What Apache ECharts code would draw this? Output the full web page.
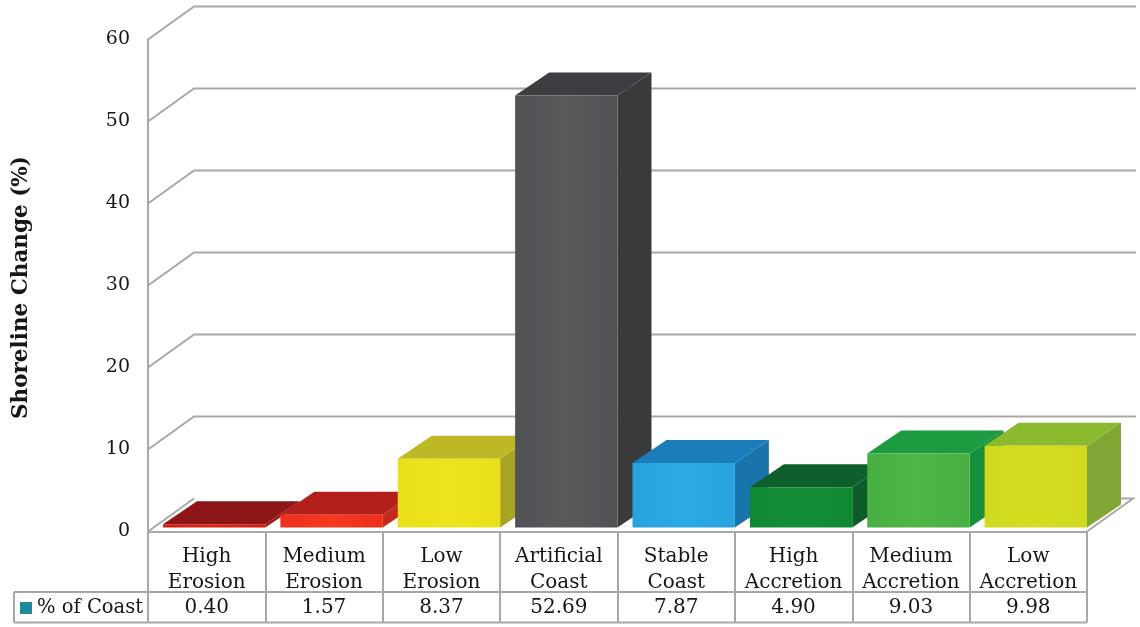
<!DOCTYPE html>
<html>
<head>
<meta charset="utf-8">
<style>html,body{margin:0;padding:0;background:#fff}#chart{width:1140px;height:627px}</style>
<script src="https://cdn.jsdelivr.net/npm/echarts@6/dist/echarts.min.js"></script>
</head>
<body>
<div id="chart"></div>
<script>
// Shoreline change by class, shown as extruded bars over a data table.
const categories = ['High\nErosion', 'Medium\nErosion', 'Low\nErosion', 'Artificial\nCoast', 'Stable\nCoast', 'High\nAccretion', 'Medium\nAccretion', 'Low\nAccretion'];
const percentOfCoast = [0.40, 1.57, 8.37, 52.69, 7.87, 4.90, 9.03, 9.98];
const yTicks = [0, 10, 20, 30, 40, 50, 60];

// Face colours per bar: [front light, front dark, top, side]
const faceColors = [
  ['#dc2218', '#cf1c15', '#8c1515', '#a01815'],
  ['#f5391f', '#ee2f1b', '#b3201c', '#c22a1c'],
  ['#eee41b', '#eae019', '#bdb825', '#a8a522'],
  ['#57595b', '#505255', '#3e3d41', '#383a3b'],
  ['#2baae4', '#27a3dd', '#1a7db9', '#1a74ac'],
  ['#138e37', '#108832', '#0e5f2c', '#0f5c2b'],
  ['#4eb646', '#48b042', '#1c9b40', '#16903a'],
  ['#d6dd20', '#d0d91e', '#8cba2e', '#80a636']
];

const FONT = '"DejaVu Serif", serif';
const TEXT = '#161616';
const RULE = '#a9a7a7';
const WALL_DX = 46, WALL_DY = -33;     // offset of the back wall
const BAR_DX = 34, BAR_DY = -23;       // extrusion of each bar
const BAR_LIFT = 4, BAR_INSET = 15;    // bar base sits slightly behind the front edge
const TABLE_LEFT = 14, ROW_TOP = 592, ROW_BOTTOM = 622.5;

function quad(points, fill) {
  return { type: 'polygon', shape: { points }, style: { fill } };
}

function stroke(shape, type) {
  return { type, shape, style: { stroke: RULE, lineWidth: 2, fill: null } };
}

function renderWall(params, api) {
  const sys = params.coordSys;
  const v = api.value(1);
  const y = api.coord([0, v])[1];
  const xl = sys.x;
  const xr = sys.x + sys.width;
  const by = y + WALL_DY;
  if (v === 0) {
    // Floor: both slanted edges and the stub of back edge showing past the last bar
    return {
      type: 'group',
      children: [
        stroke({ x1: xl, y1: y, x2: xl + WALL_DX, y2: by }, 'line'),
        stroke({ points: [[xr, y], [xr + WALL_DX, by], [xr + BAR_DX, by]] }, 'polyline')
      ]
    };
  }
  return stroke({ points: [[xl, y], [xl + WALL_DX, by], [xr + WALL_DX + 3, by]] }, 'polyline');
}

function renderBar(params, api) {
  const i = api.value(0);
  const v = api.value(1);
  const base = api.coord([i, 0]);
  const top = api.coord([i, v]);
  const cellW = api.size([1, 0])[0];
  const L = base[0] - cellW / 2 + BAR_INSET;
  const R = base[0] + cellW / 2;
  const B = base[1] - BAR_LIFT;
  const T = top[1] - BAR_LIFT;
  const c = faceColors[i];
  return {
    type: 'group',
    children: [
      quad([[R, B], [R + BAR_DX, B + BAR_DY], [R + BAR_DX, T + BAR_DY], [R, T]], c[3]),
      quad([[L, T], [R, T], [R + BAR_DX, T + BAR_DY], [L + BAR_DX, T + BAR_DY]], c[2]),
      {
        type: 'rect',
        shape: { x: L, y: T, width: R - L, height: B - T },
        style: {
          fill: {
            type: 'linear', x: 0, y: 0, x2: 1, y2: 0,
            colorStops: [{ offset: 0, color: c[1] }, { offset: 0.5, color: c[0] }, { offset: 1, color: c[1] }]
          }
        }
      },
      {
        type: 'text',
        style: {
          text: v.toFixed(2), x: base[0], y: (ROW_TOP + ROW_BOTTOM) / 2 + 1,
          textAlign: 'center', textVerticalAlign: 'middle',
          fontFamily: FONT, fontSize: 20, fill: TEXT
        }
      }
    ]
  };
}

const chart = echarts.init(document.getElementById('chart'), null, { renderer: 'canvas' });
chart.setOption({
  animation: false,
  backgroundColor: '#fff',
  grid: { left: 148, top: 39.5, width: 939, height: 492 },
  legend: {
    left: 20, top: ROW_TOP + 6, padding: 0, itemWidth: 12, itemHeight: 12, itemGap: 8,
    data: [{ name: '% of Coast', icon: 'rect', itemStyle: { color: '#1d8b9b' } }],
    textStyle: { fontFamily: FONT, fontSize: 19.5, color: TEXT }
  },
  xAxis: {
    type: 'category',
    data: categories,
    axisLine: { lineStyle: { color: RULE, width: 2 } },
    axisTick: { show: true, length: 91, lineStyle: { color: RULE, width: 2 } },
    axisLabel: {
      interval: 0, margin: 12, fontFamily: FONT, fontSize: 20,
      color: TEXT, lineHeight: 26
    },
    splitLine: { show: false }
  },
  yAxis: {
    type: 'value',
    min: 0, max: 60, interval: 10,
    name: 'Shoreline Change (%)',
    nameLocation: 'middle',
    nameGap: 116,
    nameTextStyle: { fontFamily: FONT, fontWeight: 'bold', fontSize: 21.5, color: TEXT, padding: [0, 0, 0, -4] },
    axisLine: { show: true, lineStyle: { color: RULE, width: 2 } },
    axisTick: { show: false },
    axisLabel: { margin: 18, fontFamily: FONT, fontSize: 19, color: TEXT, verticalAlign: 'middle', padding: [3, 0, 0, 0] },
    splitLine: { show: false }
  },
  graphic: [
    // Data-table row beneath the plot
    { type: 'line', silent: true, shape: { x1: TABLE_LEFT, y1: ROW_TOP, x2: 1087, y2: ROW_TOP }, style: { stroke: RULE, lineWidth: 2 } },
    { type: 'line', silent: true, shape: { x1: TABLE_LEFT, y1: ROW_BOTTOM, x2: 1087, y2: ROW_BOTTOM }, style: { stroke: RULE, lineWidth: 2 } },
    { type: 'line', silent: true, shape: { x1: TABLE_LEFT, y1: ROW_TOP, x2: TABLE_LEFT, y2: ROW_BOTTOM }, style: { stroke: RULE, lineWidth: 2 } }
  ],
  series: [
    {
      type: 'custom',
      name: 'wall',
      silent: true,
      renderItem: renderWall,
      encode: { x: 0, y: 1 },
      data: yTicks.map(t => [0, t]),
      z: 1
    },
    {
      type: 'custom',
      name: '% of Coast',
      renderItem: renderBar,
      encode: { x: 0, y: 1 },
      data: percentOfCoast.map((v, i) => [i, v]),
      z: 2
    }
  ]
});
</script>
</body>
</html>
